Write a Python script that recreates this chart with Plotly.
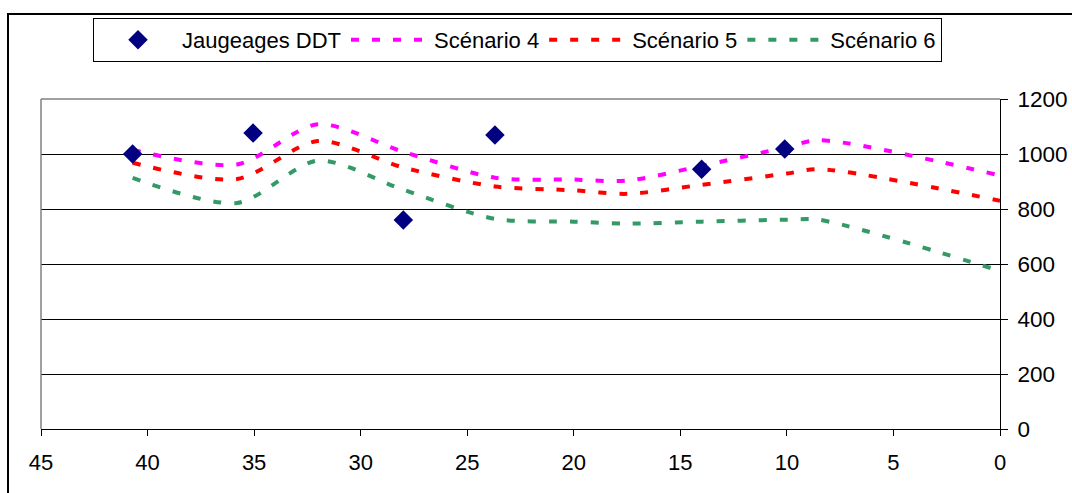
import plotly.graph_objects as go

# Data
km = [40.7, 35.8, 32, 28, 23.7, 20, 17.5, 14, 10, 8.5, 0]
scenario4 = [1015, 962, 1108, 1008, 914, 907, 903, 957, 1025, 1050, 922]
scenario5 = [968, 909, 1047, 951, 882, 868, 855, 888, 929, 945, 830]
scenario6 = [913, 822, 976, 870, 764, 754, 747, 754, 761, 761, 575]

jaug_x = [40.7, 35.05, 28.0, 23.7, 14.0, 10.1]
jaug_y = [1000, 1076, 760, 1069, 945, 1018]

x_ticks = [45, 40, 35, 30, 25, 20, 15, 10, 5, 0]
y_ticks = [0, 200, 400, 600, 800, 1000, 1200]

FONT = "Liberation Sans, Arial, sans-serif"
W, H = 1072, 493
ML, MR, MT, MB = 41, 72, 99, 64
PW = W - ML - MR
PH = H - MT - MB


def px_x(p):
    return (p - ML) / PW


def px_y(p):
    return (H - MB - p) / PH


fig = go.Figure()

series = [
    ("Scénario 4", scenario4, "#FF00FF"),
    ("Scénario 5", scenario5, "#FF0000"),
    ("Scénario 6", scenario6, "#339966"),
]
for i, (name, vals, col) in enumerate(series):
    fig.add_trace(go.Scatter(
        x=km, y=vals, name=name, mode="lines",
        line=dict(color=col, width=4, dash="8px,13px", shape="spline", smoothing=0.8),
        legendrank=2 + i,
    ))

fig.add_trace(go.Scatter(
    x=jaug_x, y=jaug_y, name="Jaugeages DDT", mode="markers",
    marker=dict(symbol="diamond", size=15, color="#000080"),
    legendrank=1,
))

fig.update_layout(
    width=W, height=H,
    margin=dict(l=ML, r=MR, t=MT, b=MB, autoexpand=False),
    paper_bgcolor="white", plot_bgcolor="white",
    font=dict(family=FONT, color="black", size=22),
    showlegend=True,
    legend=dict(
        orientation="h", x=px_x(93), y=px_y(18), xanchor="left", yanchor="top",
        bordercolor="black", borderwidth=1, bgcolor="white",
        font=dict(family=FONT, size=22, color="black"),
        itemwidth=78, traceorder="normal",
    ),
    xaxis=dict(
        range=[45, 0], tickvals=x_ticks, ticks="outside", ticklen=6,
        tickcolor="black", showline=True, linecolor="black", linewidth=1,
        showgrid=False, zeroline=False, tickfont=dict(size=22),
        ticklabelstandoff=8, automargin=False,
    ),
    yaxis=dict(
        range=[0, 1200], tickvals=y_ticks, side="right", ticks="outside",
        ticklen=7, tickcolor="black", showline=True, linecolor="black",
        linewidth=1, showgrid=True, gridcolor="black", gridwidth=1,
        zeroline=False, tickfont=dict(size=22.5), ticklabelstandoff=5,
        automargin=False,
    ),
    shapes=[
        # plot-area border (left and top), grey
        dict(type="line", xref="paper", yref="paper", x0=0, x1=0, y0=0, y1=1,
             line=dict(color="#808080", width=1.5)),
        dict(type="line", xref="paper", yref="paper", x0=0, x1=1, y0=1, y1=1,
             line=dict(color="#808080", width=1.5)),
        # chart-area frame
        dict(type="rect", xref="paper", yref="paper",
             x0=px_x(8), x1=px_x(1085), y0=px_y(505), y1=px_y(14),
             line=dict(color="black", width=2), layer="below"),
    ],
)

fig.write_html("out.html")
